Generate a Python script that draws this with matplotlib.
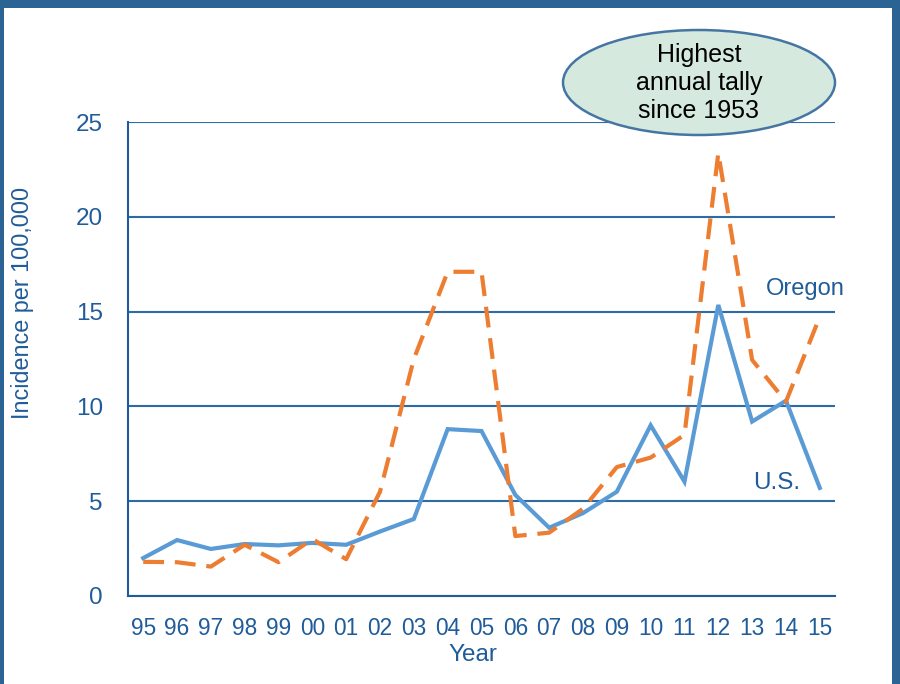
import matplotlib.pyplot as plt
from matplotlib.patches import Ellipse, Rectangle

plt.rcParams['font.family'] = ['Liberation Sans', 'DejaVu Sans']

lata = ['95', '96', '97', '98', '99', '00', '01', '02', '03', '04', '05',
        '06', '07', '08', '09', '10', '11', '12', '13', '14', '15']
usa = [2.0, 2.95, 2.48, 2.74, 2.67, 2.8, 2.7, 3.4, 4.06, 8.8, 8.7,
       5.33, 3.6, 4.37, 5.5, 9.0, 6.03, 15.35, 9.2, 10.3, 5.7]
oregon = [1.8, 1.78, 1.55, 2.7, 1.78, 3.0, 1.94, 5.5, 12.5, 17.1, 17.1,
          3.16, 3.34, 4.6, 6.8, 7.3, 8.5, 23.36, 12.45, 10.25, 14.73]
y_ticks = [0, 5, 10, 15, 20, 25]

niebieski = '#1f5c99'
ramka = '#2a6394'

fig = plt.figure(figsize=(9, 6.84), dpi=100)
ax = fig.add_axes([0.1422, 0.1287, 0.7856, 0.6929])

x = list(range(len(lata)))
ax.plot(x, usa, color='#5b9bd5', lw=3, solid_joinstyle='miter', zorder=3)
ax.plot(x, oregon, color='#ed7d31', lw=3, dashes=(5, 2.6), zorder=4)

ax.set_xlim(-0.45, len(lata) - 0.55)
ax.set_ylim(0, 25)
ax.set_yticks(y_ticks)
ax.set_xticks(x)
ax.set_xticklabels(lata)
ax.tick_params(axis='x', length=0, labelsize=16.3, labelcolor=niebieski, pad=15)
ax.tick_params(axis='y', length=0, labelsize=17.5, labelcolor=niebieski, pad=18)
ax.grid(axis='y', color='#2e6aa3', lw=1.5)
ax.set_axisbelow(True)
for s in ['top', 'right']:
    ax.spines[s].set_visible(False)
for s in ['left', 'bottom']:
    ax.spines[s].set_color(niebieski)
    ax.spines[s].set_linewidth(1.5)

# opisy osi
fig.text(23 / 900, 1 - 303 / 684, 'Incidence per 100,000', rotation=90, fontsize=16.8,
         color=niebieski, ha='center', va='center')
fig.text(473 / 900, 1 - 655 / 684, 'Year', fontsize=17.5, color=niebieski,
         ha='center', va='center')

ax.text(18.4, 16.2, 'Oregon', fontsize=17, color=niebieski, va='center')
ax.text(18.02, 5.96, 'U.S.', fontsize=17.5, color=niebieski, va='center')

# dymek z komentarzem
fig.patches.append(Ellipse((699 / 900, 1 - 82.5 / 684), 272 / 900, 105 / 684,
                           transform=fig.transFigure, facecolor='#d6e9df',
                           edgecolor='#4576a3', lw=1.8, zorder=10))
fig.text(699 / 900, 1 - 83 / 684, 'Highest\nannual tally\nsince 1953', ha='center',
         va='center', fontsize=18, linespacing=1.2, color='black', zorder=11)

# ramka slajdu
fig.patches.append(Rectangle((0, 1 - 8 / 684), 1, 8 / 684, transform=fig.transFigure,
                             facecolor=ramka, edgecolor='none'))
fig.patches.append(Rectangle((0, 0), 4 / 900, 1, transform=fig.transFigure,
                             facecolor=ramka, edgecolor='none'))
fig.patches.append(Rectangle((1 - 8 / 900, 0), 8 / 900, 1, transform=fig.transFigure,
                             facecolor=ramka, edgecolor='none'))

fig.savefig('out.png', dpi=100)
